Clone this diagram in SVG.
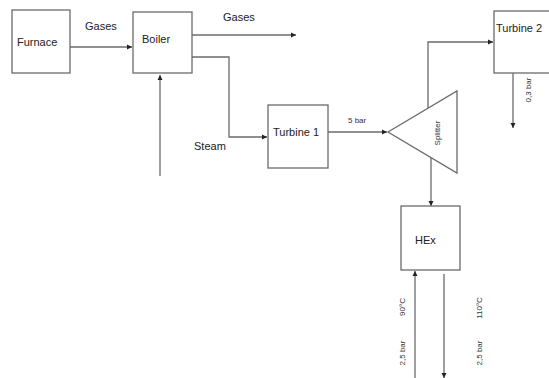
<svg xmlns="http://www.w3.org/2000/svg" width="549" height="378" viewBox="0 0 549 378">
<style>
.box{fill:#fff;stroke:#6b6b6b;stroke-width:1.3}
.ln{fill:none;stroke:#6b6b6b;stroke-width:1.3}
.t{font-family:"Liberation Sans",Arial,sans-serif;font-size:11px;fill:#222}
.s{font-family:"Liberation Sans",Arial,sans-serif;font-size:8px;fill:#333}
</style>
<defs>
<marker id="ah" markerWidth="6" markerHeight="6" refX="5" refY="3" orient="auto" markerUnits="userSpaceOnUse">
<path d="M0,0.5 L5,3 L0,5.5 Z" fill="#222"/>
</marker>
</defs>
<rect width="549" height="378" fill="#fff"/>
<g id="connectors">
<line class="ln" x1="70" y1="47" x2="132" y2="47" marker-end="url(#ah)"/>
<line class="ln" x1="192" y1="35" x2="296" y2="35" marker-end="url(#ah)"/>
<polyline class="ln" points="192,57 229,57 229,137 267,137" marker-end="url(#ah)"/>
<line class="ln" x1="160" y1="176" x2="160" y2="75" marker-end="url(#ah)"/>
<line class="ln" x1="328" y1="132" x2="387" y2="132" marker-end="url(#ah)"/>
<polyline class="ln" points="428,108 428,42 493,42" marker-end="url(#ah)"/>
<line class="ln" x1="513" y1="73" x2="513" y2="128" marker-end="url(#ah)"/>
<line class="ln" x1="431" y1="157" x2="431" y2="206" marker-end="url(#ah)"/>
<line class="ln" x1="415" y1="378" x2="415" y2="271" marker-end="url(#ah)"/>
<line class="ln" x1="444" y1="274" x2="444" y2="378" marker-end="url(#ah)"/>
</g>
<g id="furnace">
<rect class="box" x="12" y="10" width="58" height="63"/>
<text class="t" x="17" y="46">Furnace</text>
</g>
<g id="boiler">
<rect class="box" x="133" y="12" width="59" height="61"/>
<text class="t" x="142" y="43">Boiler</text>
</g>
<g id="turbine1">
<rect class="box" x="268" y="105" width="60" height="63"/>
<text class="t" x="273" y="136">Turbine 1</text>
</g>
<g id="splitter">
<polygon class="box" points="388,132 457,91 457,173"/>
<text class="s" transform="translate(440,133) rotate(-90)" text-anchor="middle">Splitter</text>
</g>
<g id="turbine2">
<rect class="box" x="494" y="11" width="60" height="62"/>
<text class="t" x="496" y="32">Turbine 2</text>
</g>
<g id="hex">
<rect class="box" x="401" y="206" width="59" height="64"/>
<text class="t" x="415" y="244">HEx</text>
</g>
<g id="labels">
<text class="t" x="85" y="30">Gases</text>
<text class="t" x="223" y="21">Gases</text>
<text class="t" x="194" y="150">Steam</text>
<text class="s" x="348" y="123">5 bar</text>
<text class="s" transform="translate(531,90) rotate(-90)" text-anchor="middle">0,3 bar</text>
<text class="s" transform="translate(405,307) rotate(-90)" text-anchor="middle">90°C</text>
<text class="s" transform="translate(405,353) rotate(-90)" text-anchor="middle">2,5 bar</text>
<text class="s" transform="translate(482,308) rotate(-90)" text-anchor="middle">110°C</text>
<text class="s" transform="translate(482,353) rotate(-90)" text-anchor="middle">2,5 bar</text>
</g>
</svg>
